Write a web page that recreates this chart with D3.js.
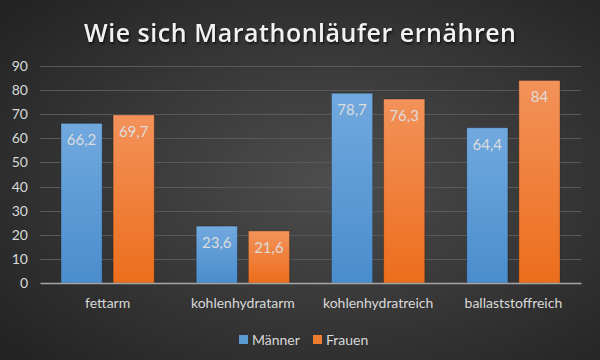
<!DOCTYPE html>
<html><head><meta charset="utf-8">
<script src="https://cdn.jsdelivr.net/npm/d3@7"></script>
<style>html,body{margin:0;padding:0;background:#333;}svg{display:block;}</style>
</head><body>
<svg id="c" width="600" height="360"></svg>
<script>
const categories = ["fettarm", "kohlenhydratarm", "kohlenhydratreich", "ballaststoffreich"];
const series = ["Männer", "Frauen"];
const maenner = [66.2, 23.6, 78.7, 64.4];
const frauen = [69.7, 21.6, 76.3, 84];
const yTicks = [0, 10, 20, 30, 40, 50, 60, 70, 80, 90];
const title = "Wie sich Marathonläufer ernähren";

const W = 600, H = 360;
const m = {left: 40, right: 19, top: 66, bottom: 77};
const svg = d3.select("#c");
const defs = svg.append("defs");
const font = "Lato, 'Open Sans', sans-serif";

const bg = defs.append("radialGradient").attr("id","bg").attr("cx","55%").attr("cy","50%").attr("r","70%");
bg.append("stop").attr("offset","0%").attr("stop-color","#4d4d4d");
bg.append("stop").attr("offset","100%").attr("stop-color","#242424");
svg.append("rect").attr("width",W).attr("height",H).attr("fill","url(#bg)");

const gradB = defs.append("linearGradient").attr("id","gB").attr("x1",0).attr("y1",0).attr("x2",0).attr("y2",1);
gradB.append("stop").attr("offset","0%").attr("stop-color","#71a9df");
gradB.append("stop").attr("offset","100%").attr("stop-color","#4a8dcc");
const gradO = defs.append("linearGradient").attr("id","gO").attr("x1",0).attr("y1",0).attr("x2",0).attr("y2",1);
gradO.append("stop").attr("offset","0%").attr("stop-color","#f3925a");
gradO.append("stop").attr("offset","100%").attr("stop-color","#ec6e1c");
const fills = ["url(#gB)", "url(#gO)"];
const legendColors = ["#5b9bd5", "#ed7d31"];

const x0 = d3.scaleBand().domain(categories).range([m.left, W - m.right]).paddingInner(0).paddingOuter(0);
const x1 = d3.scaleBand().domain(series).range([x0.bandwidth()*0.155, x0.bandwidth()*0.845]).paddingInner(0.21).paddingOuter(0);
const y = d3.scaleLinear().domain([0, 90]).range([H - m.bottom, m.top]);

// gridlines
svg.append("g").selectAll("line").data(yTicks.filter(d => d > 0)).join("line")
  .attr("x1", m.left).attr("x2", W - m.right)
  .attr("y1", d => Math.round(y(d)) + 0.5).attr("y2", d => Math.round(y(d)) + 0.5)
  .attr("stroke", "#595959").attr("stroke-width", 1);

// y axis labels
const yAxis = d3.axisLeft(y).tickValues(yTicks).tickSize(0).tickPadding(12).tickFormat(d3.format("d"));
const ya = svg.append("g").attr("transform", `translate(${m.left},0)`).call(yAxis);
ya.select(".domain").remove();
ya.selectAll("text").attr("fill", "#d9d9d9").attr("font-size", 14).attr("font-family", font);

// bars
const data = categories.map((c, i) => ({c, vals: [maenner[i], frauen[i]]}));
const groups = svg.append("g").selectAll("g").data(data).join("g")
  .attr("transform", d => `translate(${x0(d.c)},0)`);
groups.selectAll("rect").data(d => d.vals.map((v, j) => ({s: series[j], v, j}))).join("rect")
  .attr("x", d => x1(d.s)).attr("width", x1.bandwidth())
  .attr("y", d => y(d.v)).attr("height", d => y(0) - y(d.v))
  .attr("fill", d => fills[d.j]).attr("stroke", "rgba(0,0,0,0.25)").attr("stroke-width", 1);
groups.selectAll("text").data(d => d.vals.map((v, j) => ({s: series[j], v, j}))).join("text")
  .attr("x", d => x1(d.s) + x1.bandwidth()/2).attr("y", d => y(d.v) + 22)
  .attr("text-anchor", "middle").attr("fill", "#dcdcdc").attr("font-size", 15).attr("font-family", font)
  .text(d => String(d.v).replace(".", ","));

// x axis
const xAxis = d3.axisBottom(x0).tickSize(0).tickPadding(15);
const xa = svg.append("g").attr("transform", `translate(0,${y(0)})`).call(xAxis);
xa.select(".domain").attr("stroke", "#a6a6a6").attr("stroke-width", 1.5);
xa.selectAll("text").attr("fill", "#d9d9d9").attr("font-size", 14).attr("font-family", font);

// title
svg.append("text").attr("x", 300).attr("y", 42).attr("text-anchor", "middle")
  .attr("fill", "#f2f2f2").attr("font-size", 25).attr("font-weight", 600).attr("font-family", "'Open Sans', sans-serif")
  .attr("textLength", 432).attr("lengthAdjust", "spacing")
  .style("filter", "drop-shadow(1px 2px 1px rgba(0,0,0,0.6))")
  .text(title);

// legend
const leg = svg.append("g").attr("transform", "translate(239,335)");
const items = [{s: series[0], x: 0}, {s: series[1], x: 74}];
items.forEach((it, i) => {
  leg.append("rect").attr("x", it.x).attr("y", 0).attr("width", 9).attr("height", 9).attr("fill", legendColors[i]);
  leg.append("text").attr("x", it.x + 13).attr("y", 9.5).attr("fill", "#d9d9d9").attr("font-size", 14).attr("font-family", font).text(it.s);
});
</script>
</body></html>
